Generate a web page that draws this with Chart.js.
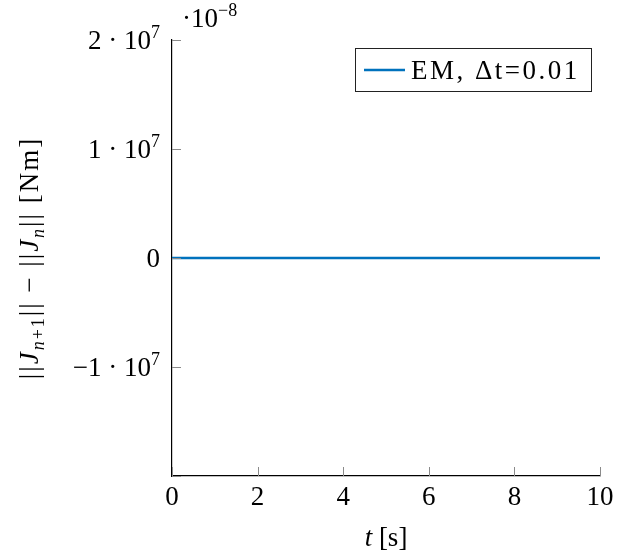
<!DOCTYPE html>
<html>
<head>
<meta charset="utf-8">
<script src="https://cdn.jsdelivr.net/npm/chart.js@4"></script>
<style>
  html, body { margin: 0; padding: 0; background: #fff; }
  #wrap { width: 633px; height: 558px; position: relative; }
</style>
</head>
<body>
<div id="wrap"><canvas id="c"></canvas></div>
<script>
const times = [0, 10];
const emValues = [0, 0];
const xTicks = [0, 2, 4, 6, 8, 10];
const yTicks = [-2e7, -1e7, 0, 1e7, 2e7];
const seriesLabel = "EM, Δt=0.01";

const SERIF = "'Liberation Serif', 'DejaVu Serif', serif";
const MAIN = 27, SMALL = 18;

// draw a run of [text, style] pieces; style: "r" roman, "i" italic, "sub", "subi", "sup"
function runWidth(ctx, parts) {
  let w = 0;
  parts.forEach(([t, s]) => { ctx.font = fontFor(s); w += ctx.measureText(t).width; });
  return w;
}
function fontFor(s) {
  const size = (s === "sub" || s === "subi" || s === "sup") ? SMALL : MAIN;
  const it = (s === "i" || s === "subi") ? "italic " : "";
  return it + size + "px " + SERIF;
}
function drawRun(ctx, parts, x, y) {
  parts.forEach(([t, s]) => {
    ctx.font = fontFor(s);
    let dy = 0;
    if (s === "sub" || s === "subi") dy = 6;
    if (s === "sup") dy = -11;
    ctx.fillText(t, x, y + dy);
    x += ctx.measureText(t).width;
  });
  return x;
}

const decorations = {
  id: "decorations",
  afterDraw(chart) {
    const ctx = chart.ctx;
    const xs = chart.scales.x, ys = chart.scales.y;
    const area = chart.chartArea;
    ctx.save();

    // inward tick marks
    ctx.strokeStyle = "#8a8a8a";
    ctx.lineWidth = 1;
    ctx.beginPath();
    xs.ticks.forEach(t => {
      const px = Math.round(xs.getPixelForValue(t.value)) + 0.5;
      ctx.moveTo(px, area.bottom); ctx.lineTo(px, area.bottom - 9);
    });
    ys.ticks.forEach(t => {
      const py = Math.round(ys.getPixelForValue(t.value)) + 0.5;
      ctx.moveTo(area.left, py); ctx.lineTo(area.left + 9, py);
    });
    ctx.stroke();

    // y tick labels  (a · 10^7)
    ctx.fillStyle = "#000";
    ctx.textBaseline = "alphabetic";
    ctx.textAlign = "left";
    ys.ticks.forEach(t => {
      const v = t.value;
      if (v <= ys.min) return;
      const py = ys.getPixelForValue(v) + 9;
      let parts;
      if (v === 0) parts = [["0", "r"]];
      else {
        const m = v / 1e7;
        parts = [[(m < 0 ? "\u2212" : "") + Math.abs(m), "r"], [" \u00b7 10", "r"], ["7", "sup"]];
      }
      const w = runWidth(ctx, parts);
      drawRun(ctx, parts, area.left - 12 - w, py);
    });

    // scale factor above y axis
    drawRun(ctx, [["\u00b710", "r"], ["\u22128", "sup"]], area.left + 10, 27);

    // x title
    const xt = [["t", "i"], [" [s]", "r"]];
    drawRun(ctx, xt, (area.left + area.right) / 2 - runWidth(ctx, xt) / 2, 546);

    // y title (rotated)
    const yt = [["||", "r"], ["J", "i"], ["n", "subi"], ["+1", "sub"], ["||", "r"], [" \u2212 ", "r"],
                ["||", "r"], ["J", "i"], ["n", "subi"], ["||", "r"], [" [Nm]", "r"]];
    ctx.save();
    ctx.translate(38, (area.top + area.bottom) / 2);
    ctx.rotate(-Math.PI / 2);
    ctx.letterSpacing = "2px";
    drawRun(ctx, yt, -runWidth(ctx, yt) / 2, 0);
    ctx.restore();

    // legend
    const ds = chart.data.datasets[0];
    ctx.fillStyle = "#fff";
    ctx.fillRect(355.5, 48.5, 236, 43);
    ctx.strokeStyle = "#222";
    ctx.lineWidth = 1;
    ctx.strokeRect(355.5, 48.5, 236, 43);
    ctx.strokeStyle = ds.borderColor;
    ctx.lineWidth = ds.borderWidth;
    ctx.beginPath();
    ctx.moveTo(364, 70); ctx.lineTo(405, 70);
    ctx.stroke();
    ctx.fillStyle = "#000";
    ctx.font = MAIN + "px " + SERIF;
    ctx.letterSpacing = "2.5px";
    ctx.fillText(ds.label, 411, 79);
    ctx.letterSpacing = "0px";

    ctx.restore();
  }
};

new Chart(document.getElementById("c"), {
  type: "line",
  data: {
    datasets: [{
      label: seriesLabel,
      data: times.map((t, i) => ({ x: t, y: emValues[i] })),
      borderColor: "#0072bd",
      borderWidth: 2.6,
      pointRadius: 0,
      fill: false
    }]
  },
  options: {
    responsive: true,
    maintainAspectRatio: false,
    animation: false,
    layout: { padding: { top: 40, right: 33, left: 0, bottom: 0 } },
    plugins: { legend: { display: false }, tooltip: { enabled: false } },
    scales: {
      x: {
        type: "linear",
        min: 0, max: 10,
        afterBuildTicks: (s) => { s.ticks = xTicks.map(v => ({ value: v })); },
        afterFit: (s) => { s.height = 82; s.paddingLeft = 0; s.paddingRight = 0; },
        grid: { display: false, drawTicks: false },
        border: { display: true, color: "#000", width: 1.2 },
        ticks: { color: "#000", padding: 6, maxRotation: 0, font: { family: SERIF, size: MAIN } }
      },
      y: {
        type: "linear",
        min: -2e7, max: 2e7,
        afterBuildTicks: (s) => { s.ticks = yTicks.map(v => ({ value: v })); },
        afterFit: (s) => { s.width = 172; s.paddingTop = 0; s.paddingBottom = 0; },
        grid: { display: false, drawTicks: false },
        border: { display: true, color: "#000", width: 1.2 },
        ticks: { display: false }
      }
    }
  },
  plugins: [decorations]
});
</script>
</body>
</html>
